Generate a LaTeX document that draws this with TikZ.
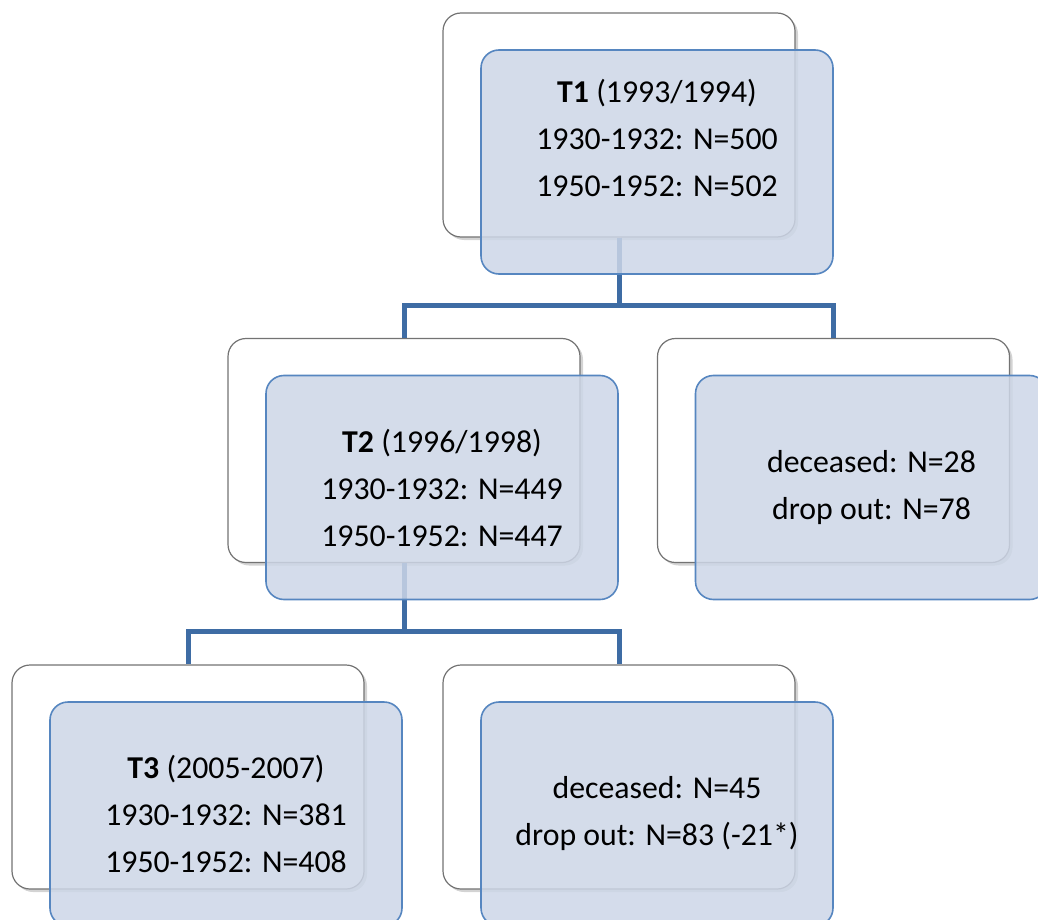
\documentclass[tikz,border=0pt]{standalone}
\usepackage{fontspec}
\setmainfont{Carlito}
\usetikzlibrary{shadows, positioning}
\definecolor{linkblue}{RGB}{62,108,164}
\definecolor{frontline}{RGB}{86,134,192}
\definecolor{frontfill}{RGB}{205,214,231}
\tikzstyle{backbox}=[draw=black!55,line width=1.2pt,fill=white,rounded corners=18pt,minimum width=352pt,minimum height=224pt,drop shadow={shadow xshift=3pt,shadow yshift=-3pt,opacity=.35}]
\tikzstyle{frontbox}=[draw=frontline,line width=1.6pt,fill=frontfill,fill opacity=.85,text opacity=1,rounded corners=18pt,minimum width=352pt,minimum height=224pt,align=center,font=\fontsize{31.8}{47}\selectfont]
\tikzstyle{boxtext}=[align=center,font=\fontsize{31.8}{47}\selectfont]
\tikzstyle{link}=[draw=linkblue,line width=5pt]

\begin{document}
\begin{tikzpicture}[x=1pt,y=-1pt]
    \clip (0,0) rectangle (1038,920);
    % back boxes
    \node[backbox] (t1b) at (619,125) {};
    \node[backbox] (t2b) at (404,450.5) {};
    \node[backbox] (d1b) at (833.5,450.5) {};
    \node[backbox] (t3b) at (188,777) {};
    \node[backbox] (d2b) at (619,777) {};
    % connectors
    \coordinate (j1) at ([shift={(0,68)}]t1b.south);
    \coordinate (j2) at ([shift={(0,68)}]t2b.south);
    \draw[link] (t1b.south) -- (j1) -| (t2b.north);
    \draw[link] (j1) -| (d1b.north);
    \draw[link] (t2b.south) -- (j2) -| (t3b.north);
    \draw[link] (j2) -| (d2b.north);
    % front boxes
    \node[frontbox] (t1f) at ([shift={(38,37)}]t1b.center) {};
    \node[boxtext] (t1t) at (657,138) {\textbf{T1} (1993/1994)\\1930-1932: N=500\\1950-1952: N=502};
    \node[frontbox] (t2f) at ([shift={(38,37)}]t2b.center) {\textbf{T2} (1996/1998)\\1930-1932: N=449\\1950-1952: N=447};
    \node[frontbox] (d1f) at ([shift={(38,37)}]d1b.center) {deceased: N=28\\drop out: N=78};
    \node[frontbox] (t3f) at ([shift={(38,37)}]t3b.center) {\textbf{T3} (2005-2007)\\1930-1932: N=381\\1950-1952: N=408};
    \node[frontbox] (d2f) at ([shift={(38,37)}]d2b.center) {deceased: N=45\\drop out: N=83 (-21*)};
\end{tikzpicture}
\end{document}
